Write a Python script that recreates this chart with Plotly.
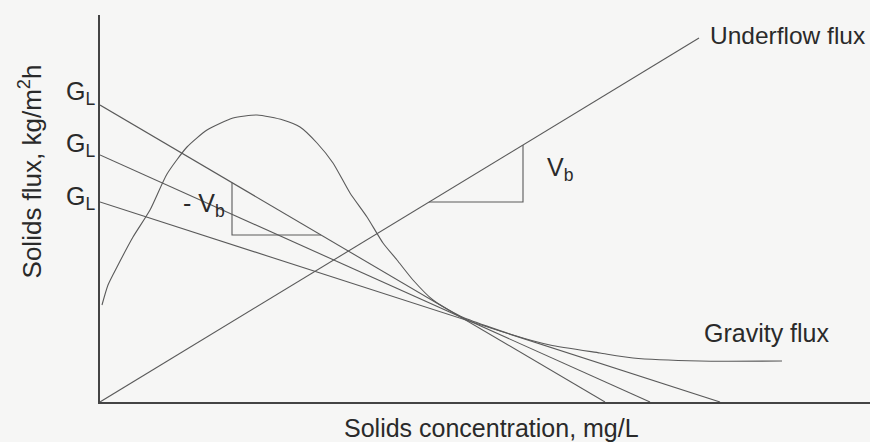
import plotly.graph_objects as go

# Gravity (settling) flux curve: concentration vs flux, arbitrary units
gravity_c = [0.04, 0.16, 0.34, 0.66, 1.00, 1.34, 1.74, 2.14, 2.66, 3.14, 3.66,
             4.00, 4.34, 4.66, 5.00, 5.34, 5.66, 5.94, 6.26, 6.66, 7.20, 8.26,
             9.00, 10.00, 10.66, 12.00, 13.64]
gravity_flux = [4.85, 5.85, 6.75, 8.25, 9.60, 11.40, 12.75, 13.60, 14.20, 14.35,
                14.10, 13.75, 12.95, 11.95, 10.45, 9.25, 7.95, 7.10, 6.10, 5.10,
                4.30, 3.35, 2.85, 2.45, 2.20, 2.05, 2.05]

# Underflow flux line through the origin
underflow_c = [0.0, 11.98]
underflow_flux = [0.0, 18.2]

# Total-flux operating lines: loading G_L at C = 0, underflow concentration at flux = 0
gl_values = [14.85, 12.35, 10.0]
underflow_conc = [10.1, 11.0, 12.4]

# Slope triangles (-V_b on the top operating line, V_b on the underflow line)
tri_neg_c = [2.64, 4.42]
tri_pos_c = [6.58, 8.46]

line_color = "#5a5a5a"
text_color = "#2a2a2a"
font_family = "Liberation Sans, Arial, sans-serif"

fig = go.Figure()

fig.add_trace(go.Scatter(x=gravity_c, y=gravity_flux, mode="lines",
                         line=dict(color=line_color, width=1.1, shape="spline", smoothing=0.6),
                         hoverinfo="skip", showlegend=False))

fig.add_trace(go.Scatter(x=underflow_c, y=underflow_flux, mode="lines",
                         line=dict(color=line_color, width=1.1),
                         hoverinfo="skip", showlegend=False))

for gl, cu in zip(gl_values, underflow_conc):
    fig.add_trace(go.Scatter(x=[0.0, cu], y=[gl, 0.0], mode="lines",
                             line=dict(color=line_color, width=1.1),
                             hoverinfo="skip", showlegend=False))

# -V_b triangle: vertical drop from the top operating line, then across back to it
gl0, cu0 = gl_values[0], underflow_conc[0]
def op_line(c):
    return gl0 - gl0 / cu0 * c
xa, xb = tri_neg_c
fig.add_trace(go.Scatter(x=[xa, xa, xb], y=[op_line(xa), op_line(xb), op_line(xb)],
                         mode="lines", line=dict(color=line_color, width=1.1),
                         hoverinfo="skip", showlegend=False))

# V_b triangle on the underflow line
vb = underflow_flux[1] / underflow_c[1]
xa, xb = tri_pos_c
fig.add_trace(go.Scatter(x=[xa, xb, xb], y=[vb * xa, vb * xa, vb * xb],
                         mode="lines", line=dict(color=line_color, width=1.1),
                         hoverinfo="skip", showlegend=False))

ann_font = dict(family=font_family, size=25, color=text_color)

annotations = [
    dict(x=12.16, y=18.35, text="Underflow flux", xanchor="left", yanchor="middle",
         font=dict(family=font_family, size=24.5, color=text_color)),
    dict(x=12.04, y=3.45, text="Gravity flux", xanchor="left", yanchor="middle"),
    dict(x=8.9, y=11.65, text="V<sub>b</sub>", xanchor="left", yanchor="middle"),
    dict(x=1.62, y=9.85, text="- V<sub>b</sub>", xanchor="left", yanchor="middle"),
]
for a in annotations:
    a.update(xref="x", yref="y")

# G_L labels just left of the flux axis
for yv in [15.45, 12.85, 10.2]:
    annotations.append(dict(x=0, y=yv, xref="paper", yref="y", xshift=-3,
                            text="G<sub>L</sub>", xanchor="right", yanchor="middle"))

annotations.append(dict(x=0.509, y=-0.068, xref="paper", yref="paper",
                        text="Solids concentration, mg/L", xanchor="center", yanchor="middle"))
annotations.append(dict(x=-0.089, y=0.597, xref="paper", yref="paper",
                        text="Solids flux, kg/m<sup>2</sup>h", textangle=-90,
                        xanchor="center", yanchor="middle",
                        font=dict(family=font_family, size=26, color=text_color)))

for a in annotations:
    a.setdefault("font", ann_font)
    a["showarrow"] = False

fig.update_layout(
    width=870, height=442,
    margin=dict(l=100, r=0, t=15, b=40),
    paper_bgcolor="#f6f6f5", plot_bgcolor="#f6f6f5",
    annotations=annotations,
    xaxis=dict(range=[0, 15.4], showgrid=False, zeroline=False, showticklabels=False,
               ticks="", showline=True, linecolor="#444444", linewidth=1.6),
    yaxis=dict(range=[0, 19.35], showgrid=False, zeroline=False, showticklabels=False,
               ticks="", showline=True, linecolor="#444444", linewidth=1.6),
)

fig.write_html("out.html")
